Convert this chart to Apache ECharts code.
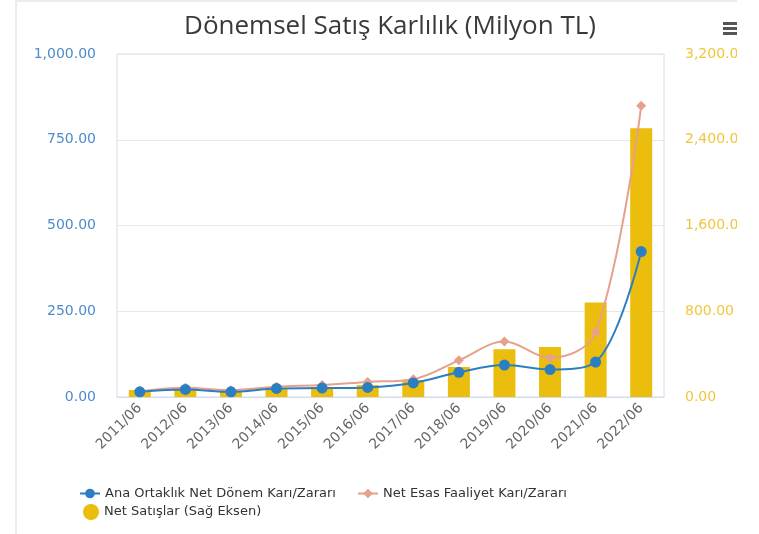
<!DOCTYPE html>
<html>
<head>
<meta charset="utf-8">
<script src="https://cdn.jsdelivr.net/npm/echarts@6/dist/echarts.min.js"></script>
<style>
  html, body { margin: 0; padding: 0; background: #fff; }
  #wrap { position: absolute; left: 15px; top: 0; width: 722px; height: 534px; overflow: hidden;
          border-left: 2px solid #ececec; border-top: 2px solid #ececec; box-sizing: border-box; }
  #chart { position: absolute; left: 0; top: -2px; width: 746px; height: 534px; }
</style>
</head>
<body>
<div id="wrap"><div id="chart"></div></div>
<script>
// periods
const periods = ['2011/06', '2012/06', '2013/06', '2014/06', '2015/06', '2016/06',
  '2017/06', '2018/06', '2019/06', '2020/06', '2021/06', '2022/06']
// Net Satışlar (right axis)
const netSales = [65, 70, 60, 75, 93, 111, 158, 280, 445, 466, 881, 2507]
// Ana Ortaklık Net Dönem Karı/Zararı
const netProfit = [15, 22, 15, 25, 26, 28, 41, 72, 93, 80, 102, 424]
// Net Esas Faaliyet Karı/Zararı
const opProfit = [17, 27, 20, 30, 35, 44, 52, 107, 162, 114, 188, 849]

const fmt = v => v.toLocaleString('en-US', { minimumFractionDigits: 2, maximumFractionDigits: 2 })
const font = '"DejaVu Sans", sans-serif'

const chart = echarts.init(document.getElementById('chart'))
chart.setOption({
  animation: false,
  textStyle: { fontFamily: font },
  title: {
    text: 'Dönemsel Satış Karlılık (Milyon TL)',
    left: 'center',
    top: 9,
    textStyle: { fontSize: 26, fontWeight: 'normal', color: '#3a3a3a', fontFamily: '"Open Sans", sans-serif' }
  },
  graphic: [
    { type: 'rect', left: 706, top: 22, shape: { width: 16, height: 3 }, style: { fill: '#555' } },
    { type: 'rect', left: 706, top: 27, shape: { width: 16, height: 3 }, style: { fill: '#555' } },
    { type: 'rect', left: 706, top: 32, shape: { width: 16, height: 3 }, style: { fill: '#555' } }
  ],
  grid: {
    left: 100, right: 99, top: 54, bottom: 137,
    show: true, borderColor: '#d5dcec', borderWidth: 1
  },
  legend: [
    {
      left: 57, top: 482, itemWidth: 20, itemHeight: 12, itemGap: 21,
      textStyle: { fontSize: 13, color: '#333', fontFamily: font },
      data: ['Ana Ortaklık Net Dönem Karı/Zararı', 'Net Esas Faaliyet Karı/Zararı']
    },
    {
      left: 61, top: 499, itemWidth: 16, itemHeight: 16,
      textStyle: { fontSize: 13, color: '#333', fontFamily: font },
      data: [{ name: 'Net Satışlar (Sağ Eksen)', icon: 'circle' }]
    }
  ],
  xAxis: {
    type: 'category',
    data: periods,
    axisLine: { lineStyle: { color: '#d5dcec' } },
    axisTick: { show: false },
    axisLabel: { rotate: 45, color: '#666', fontSize: 14, margin: 9, fontFamily: font }
  },
  yAxis: [
    {
      type: 'value', min: 0, max: 1000, interval: 250,
      axisLabel: { color: '#4f8bcb', fontSize: 14, margin: 21, formatter: fmt, fontFamily: font },
      splitLine: { lineStyle: { color: '#e8e8e8' } },
      axisLine: { show: false }, axisTick: { show: false }
    },
    {
      type: 'value', min: 0, max: 3200, interval: 800, position: 'right',
      axisLabel: { color: '#f2c53d', fontSize: 14, margin: 21, formatter: fmt, fontFamily: font },
      splitLine: { show: false },
      axisLine: { show: false }, axisTick: { show: false }
    }
  ],
  series: [
    {
      name: 'Net Satışlar (Sağ Eksen)',
      type: 'bar',
      yAxisIndex: 1,
      barWidth: 22,
      itemStyle: { color: '#ebbd0d' },
      data: netSales,
      z: 1
    },
    {
      name: 'Ana Ortaklık Net Dönem Karı/Zararı',
      type: 'line',
      smooth: 0.35,
      symbol: 'circle',
      symbolSize: 11,
      lineStyle: { width: 2, color: '#2b7fc1' },
      itemStyle: { color: '#2b7fc1' },
      data: netProfit,
      z: 3
    },
    {
      name: 'Net Esas Faaliyet Karı/Zararı',
      type: 'line',
      smooth: 0.35,
      symbol: 'diamond',
      symbolSize: 10,
      lineStyle: { width: 2, color: '#e6a08c' },
      itemStyle: { color: '#e6a08c' },
      data: opProfit,
      z: 2
    }
  ]
})
window.addEventListener('resize', () => { chart && chart.resize() })
</script>
</body>
</html>
